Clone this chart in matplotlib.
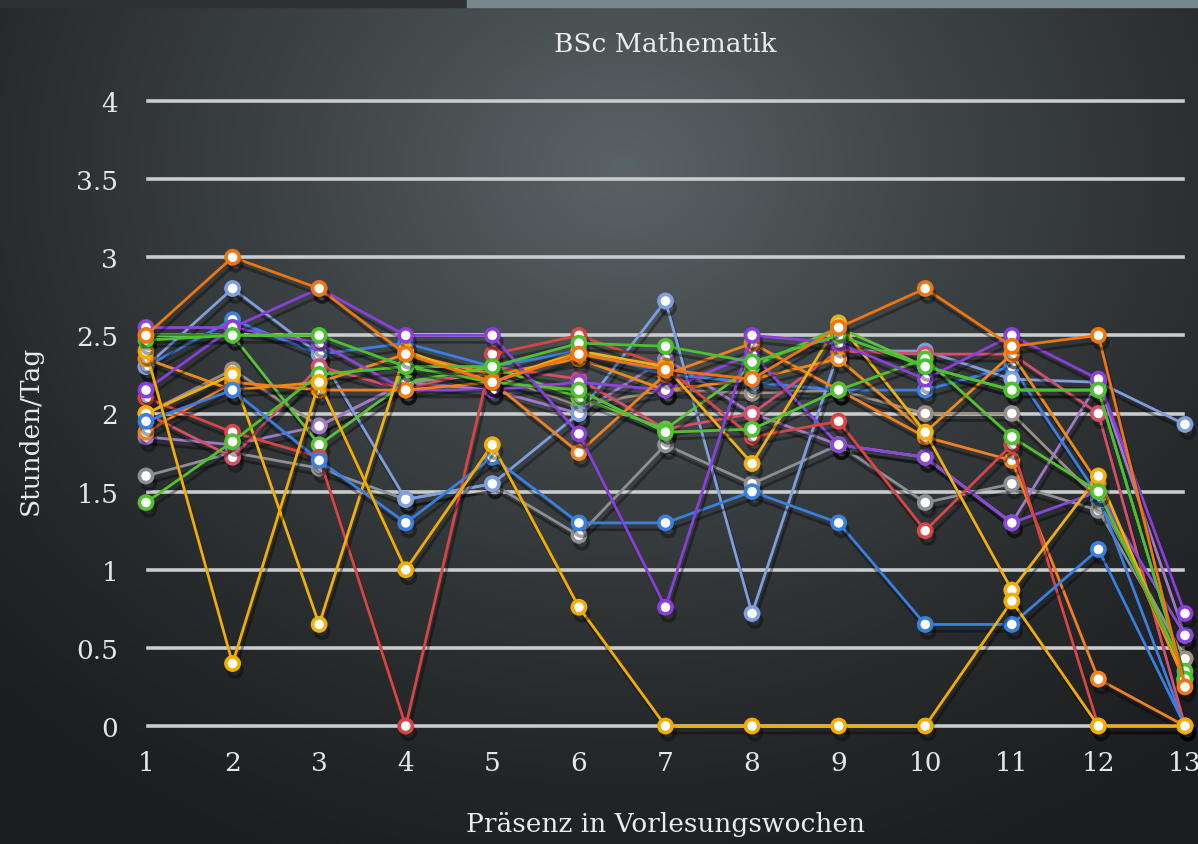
import numpy as np
import matplotlib
matplotlib.use("Agg")
import matplotlib.pyplot as plt
import matplotlib.patheffects as pe

weeks = list(range(1, 14))
week_labels = [str(w) for w in weeks]
y_ticks = [0, 0.5, 1, 1.5, 2, 2.5, 3, 3.5, 4]
y_labels = ["0", "0.5", "1", "1.5", "2", "2.5", "3", "3.5", "4"]

# one row per student, hours/day per lecture week
s_orange1 = [2.5, 3.0, 2.8, 2.38, 2.2, 2.38, 2.28, 2.22, 2.55, 2.8, 2.43, 2.5, 0.25]
s_orange2 = [1.88, 2.2, 2.15, 2.15, 2.2, 1.75, 2.25, 2.45, 2.15, 1.85, 1.7, 0.3, 0.0]
s_orange3 = [2.35, 2.15, 2.2, 2.38, 2.25, 2.35, 2.15, 2.22, 2.35, 1.88, 2.38, 1.55, 0.28]
s_gold1 = [2.4, 0.4, 2.2, 1.0, 1.8, 0.76, 0.0, 0.0, 0.0, 0.0, 0.8, 0.0, 0.0]
s_gold2 = [2.0, 2.25, 0.65, 2.4, 2.2, 2.4, 2.3, 1.68, 2.58, 1.88, 0.87, 1.6, 0.3]
s_red1 = [2.1, 1.88, 1.72, 0.0, 2.38, 2.5, 2.3, 1.85, 1.95, 1.25, 1.8, 0.0, 0.0]
s_red2 = [2.0, 1.72, 2.3, 2.15, 2.3, 2.22, 1.9, 2.0, 2.4, 2.38, 2.38, 2.0, 0.0]
s_green1 = [2.47, 2.5, 2.5, 2.3, 2.3, 2.45, 2.43, 2.33, 2.5, 2.3, 2.15, 2.15, 0.3]
s_green2 = [1.43, 1.82, 2.25, 2.3, 2.2, 2.15, 1.88, 1.9, 2.15, 2.35, 1.85, 1.5, 0.35]
s_green3 = [2.5, 2.5, 1.8, 2.2, 2.3, 2.1, 1.9, 2.3, 2.55, 2.3, 2.15, 2.15, 0.3]
s_purple1 = [2.15, 2.55, 2.8, 2.5, 2.5, 1.87, 0.76, 2.5, 2.45, 2.22, 2.5, 2.22, 0.72]
s_purple2 = [2.55, 2.55, 2.45, 2.15, 2.15, 2.2, 2.15, 2.38, 1.8, 1.72, 1.3, 1.5, 0.58]
s_purple3 = [1.85, 1.8, 1.92, 2.2, 2.15, 2.0, 2.35, 2.0, 1.8, 1.72, 1.3, 2.2, 0.58]
s_blue1 = [1.95, 2.15, 1.7, 1.3, 1.72, 1.3, 1.3, 1.5, 1.3, 0.65, 0.65, 1.13, 0.0]
s_blue2 = [2.3, 2.6, 2.38, 2.45, 2.3, 2.4, 2.25, 2.2, 2.15, 2.15, 2.3, 1.47, 0.0]
s_lblue = [2.3, 2.8, 2.38, 1.45, 1.55, 2.0, 2.72, 0.72, 2.4, 2.4, 2.22, 2.2, 1.93]
s_gray1 = [1.6, 1.75, 1.65, 1.45, 1.55, 1.22, 1.8, 1.55, 1.8, 1.43, 1.55, 1.38, 0.43]
s_gray2 = [2.0, 2.28, 1.92, 2.2, 2.25, 2.05, 2.15, 2.13, 2.15, 2.0, 2.0, 1.45, 0.43]

series = [
    (s_gray1, "#8c8f96"), (s_gray2, "#9a8f86"), (s_purple3, "#a07ac8"),
    (s_blue2, "#3d7fe0"), (s_lblue, "#7f9ee0"), (s_red2, "#d4506a"),
    (s_orange3, "#ef8a1a"), (s_green3, "#5cc23a"), (s_purple2, "#8a48d8"),
    (s_orange2, "#f08020"), (s_red1, "#d94545"), (s_gold2, "#f0b010"),
    (s_green2, "#52c030"), (s_blue1, "#3a7ee0"), (s_purple1, "#8a3fd8"),
    (s_gold1, "#f2ae00"), (s_green1, "#4cc030"), (s_orange1, "#ee7510"),
]

fig = plt.figure(figsize=(11.98, 8.45), dpi=100)

# chalkboard background
bg = fig.add_axes([0, 0, 1, 1], zorder=-10)
gx, gy = np.meshgrid(np.linspace(0, 1, 300), np.linspace(0, 1, 220))
d = np.sqrt(((gx - 0.52) / 0.75) ** 2 + ((gy - 0.2) / 0.9) ** 2)
shade = np.clip(1 - d, 0, 1) ** 1.3
c_dark = np.array([0.11, 0.115, 0.12])
c_light = np.array([0.35, 0.39, 0.40])
img = c_dark + (c_light - c_dark) * shade[..., None]
bg.imshow(img, extent=[0, 1, 0, 1], aspect="auto", origin="upper")
bg.add_patch(plt.Rectangle((0, 0.99), 0.39, 0.01, color="#2e3132"))
bg.add_patch(plt.Rectangle((0.39, 0.99), 0.61, 0.01, color="#78888a"))
bg.set_xlim(0, 1)
bg.set_ylim(0, 1)
bg.axis("off")

ax = fig.add_axes([146 / 1198, 118 / 845, 1039 / 1198, 625 / 845])
ax.set_facecolor("none")
for sp in ax.spines.values():
    sp.set_visible(False)

for y in y_ticks:
    ax.axhline(y, color="#c9cccc", lw=2.6, zorder=1, xmin=0.002, xmax=0.998, clip_on=False)

shadow = [pe.SimpleLineShadow(offset=(2, -5), shadow_color="black", alpha=0.35, rho=0.3), pe.Normal()]
for vals, col in series:
    ax.plot(weeks, vals, color=col, lw=2.0, marker="o", ms=9.5, mfc="white",
            mec=col, mew=2.6, zorder=3, clip_on=False, path_effects=shadow)

ax.set_xlim(1, 13)
ax.set_ylim(0, 4)
ax.set_xticks(weeks)
ax.set_xticklabels(week_labels)
ax.set_yticks(y_ticks)
ax.set_yticklabels(y_labels)
ax.tick_params(length=0, colors="#e6e6e6", labelsize=19)
ax.tick_params(axis="x", pad=17)
ax.tick_params(axis="y", pad=20)
for lab in ax.get_xticklabels() + ax.get_yticklabels():
    lab.set_family("DejaVu Serif")

fig.text(665 / 1198, 1 - 45 / 845, "BSc Mathematik", ha="center", va="center",
         fontsize=19, color="#ececec", family="DejaVu Serif")
fig.text(665 / 1198, 1 - 825 / 845, "Präsenz in Vorlesungswochen", ha="center", va="center",
         fontsize=19, color="#ececec", family="DejaVu Serif")
fig.text(30 / 1198, 1 - 430 / 845, "Stunden/Tag", ha="center", va="center", rotation=90,
         fontsize=19, color="#ececec", family="DejaVu Serif")

fig.savefig("out.png", dpi=100)
